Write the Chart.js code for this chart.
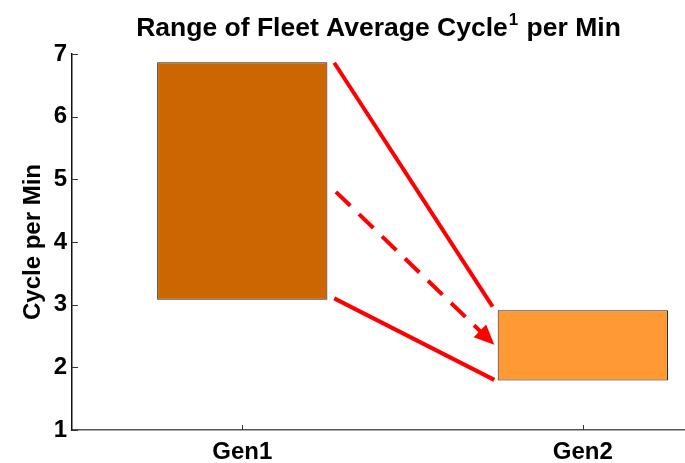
<!DOCTYPE html>
<html>
<head>
<meta charset="utf-8">
<script src="https://cdn.jsdelivr.net/npm/chart.js@4"></script>
<style>
  body { margin: 0; background: #fff; }
  #wrap { width: 685px; height: 463px; }
</style>
</head>
<body>
<div id="wrap"><canvas id="rangeChart" width="685" height="463"></canvas></div>
<script>
// categories and ranges (cycles per min)
const categories = ['Gen1', 'Gen2'];
const categoryPos = [1, 2];
const rangeLow = [3.08, 1.79];
const rangeHigh = [6.87, 2.91];
const barColors = ['#CC6600', '#FF9933'];

// red guide lines between the boxes
const upperLineX = [1.27, 1.735];
const upperLineY = [6.86, 2.97];
const trendLineX = [1.275, 1.74];
const trendLineY = [4.80, 2.36];
const lowerLineX = [1.27, 1.74];
const lowerLineY = [3.10, 1.80];

const yTicks = [1, 2, 3, 4, 5, 6, 7];

const FONT = "'Liberation Sans', Arial, sans-serif";

function toPoints(xs, ys) {
    return xs.map((x, i) => ({ x: x, y: ys[i] }));
}

// title with superscript, drawn by hand
const titlePlugin = {
    id: 'supTitle',
    afterDraw(chart) {
        const ctx = chart.ctx;
        const area = chart.chartArea;
        const part1 = 'Range of Fleet Average Cycle';
        const sup = '1';
        const part2 = ' per Min';
        const big = 'bold 26.5px ' + FONT;
        const small = 'bold 17px ' + FONT;
        ctx.save();
        ctx.fillStyle = '#000';
        ctx.textBaseline = 'alphabetic';
        ctx.font = big;
        const w1 = ctx.measureText(part1).width;
        const w3 = ctx.measureText(part2).width;
        ctx.font = small;
        const w2 = ctx.measureText(sup).width + 2;
        const total = w1 + w2 + w3;
        let x = (area.left + area.right) / 2 - total / 2;
        const base = 36;
        ctx.font = big;
        ctx.fillText(part1, x, base);
        x += w1 + 1;
        ctx.font = small;
        ctx.fillText(sup, x, base - 11);
        x += w2 - 1;
        ctx.font = big;
        ctx.fillText(part2, x, base);
        ctx.restore();
    }
};

// inward tick marks and arrow head
const marksPlugin = {
    id: 'marks',
    afterDatasetsDraw(chart) {
        const ctx = chart.ctx;
        const xs = chart.scales.x;
        const ys = chart.scales.y;
        ctx.save();
        ctx.strokeStyle = '#333';
        ctx.lineWidth = 1;
        yTicks.forEach(v => {
            const py = Math.round(ys.getPixelForValue(v)) + 0.5;
            ctx.beginPath();
            ctx.moveTo(xs.left, py);
            ctx.lineTo(xs.left + 6, py);
            ctx.stroke();
        });
        categoryPos.forEach(v => {
            const px = Math.round(xs.getPixelForValue(v)) + 0.5;
            ctx.beginPath();
            ctx.moveTo(px, ys.bottom);
            ctx.lineTo(px, ys.bottom - 5);
            ctx.stroke();
        });

        // arrow head at the end of the dashed line
        const meta = chart.getDatasetMeta(2);
        const p0 = meta.data[0], p1 = meta.data[1];
        const ang = Math.atan2(p1.y - p0.y, p1.x - p0.x);
        const len = 20, half = 9;
        const bx = p1.x - len * Math.cos(ang);
        const by = p1.y - len * Math.sin(ang);
        ctx.fillStyle = '#FF0000';
        ctx.beginPath();
        ctx.moveTo(p1.x, p1.y);
        ctx.lineTo(bx + half * Math.sin(ang), by - half * Math.cos(ang));
        ctx.lineTo(bx - half * Math.sin(ang), by + half * Math.cos(ang));
        ctx.closePath();
        ctx.fill();
        ctx.restore();
    }
};

const lineStyle = {
    type: 'line',
    borderColor: '#FF0000',
    borderWidth: 4,
    borderCapStyle: 'butt',
    pointRadius: 0,
    fill: false,
    tension: 0
};

const ctx = document.getElementById('rangeChart').getContext('2d');

new Chart(ctx, {
    type: 'bar',
    data: {
        datasets: [
            {
                type: 'bar',
                data: categoryPos.map((x, i) => ({ x: x, y: [rangeLow[i], rangeHigh[i]] })),
                backgroundColor: barColors,
                borderColor: '#222',
                borderWidth: 1,
                borderSkipped: false,
                barPercentage: 1,
                categoryPercentage: 0.5
            },
            Object.assign({ data: toPoints(upperLineX, upperLineY) }, lineStyle),
            Object.assign({ data: toPoints(trendLineX, trendLineY), borderDash: [20, 12] }, lineStyle),
            Object.assign({ data: toPoints(lowerLineX, lowerLineY) }, lineStyle)
        ]
    },
    options: {
        responsive: false,
        animation: false,
        layout: { padding: { top: 54, right: 0, left: 0, bottom: 0 } },
        plugins: {
            legend: { display: false },
            tooltip: { enabled: false },
            title: { display: false }
        },
        scales: {
            x: {
                type: 'linear',
                offset: false,
                min: 0.5,
                max: 2.3,
                grid: { display: false, drawTicks: false, offset: false },
                border: { display: true, color: '#555', width: 1.5 },
                afterBuildTicks: (scale) => { scale.ticks = categoryPos.map(v => ({ value: v })); },
                afterFit: (scale) => { scale.height = 33; },
                ticks: {
                    padding: 8,
                    color: '#000',
                    font: { family: FONT, size: 24, weight: 'bold' },
                    maxRotation: 0,
                    callback: (v) => categories[categoryPos.indexOf(v)]
                }
            },
            y: {
                min: 1,
                max: 7,
                grid: { display: false, drawTicks: false },
                border: { display: true, color: '#111', width: 1.5 },
                afterBuildTicks: (scale) => { scale.ticks = yTicks.map(v => ({ value: v })); },
                afterFit: (scale) => { scale.width = 72; },
                ticks: {
                    padding: 5,
                    color: '#000',
                    font: { family: FONT, size: 24, weight: 'bold' }
                },
                title: {
                    display: true,
                    text: 'Cycle per Min',
                    color: '#000',
                    padding: { top: 19, bottom: 0 },
                    font: { family: FONT, size: 24, weight: 'bold' }
                }
            }
        }
    },
    plugins: [titlePlugin, marksPlugin]
});
</script>
</body>
</html>
